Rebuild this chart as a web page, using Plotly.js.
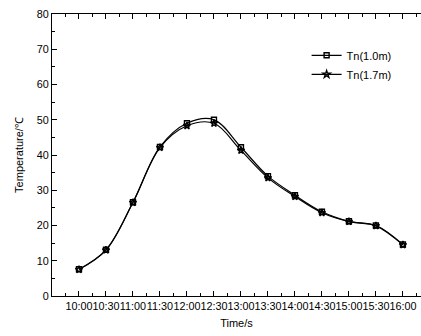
<!DOCTYPE html>
<html><head><meta charset="utf-8">
<script src="https://cdn.plot.ly/plotly-3.0.1.min.js"></script>
<style>html,body{margin:0;padding:0;background:#fff;}#chart{width:421px;height:336px;}</style>
</head><body><div id="chart"></div>
<script>
const categories = ["10:00","10:30","11:00","11:30","12:00","12:30","13:00","13:30","14:00","14:30","15:00","15:30","16:00"];
const tn10 = [7.6, 13.1, 26.6, 42.3, 49.0, 50.0, 42.2, 34.0, 28.6, 23.9, 21.2, 20.0, 14.6];
const tn17 = [7.5, 13.0, 26.5, 42.1, 48.3, 49.0, 41.3, 33.5, 28.2, 23.6, 21.1, 19.9, 14.5];
const idx = categories.map((c, i) => i);

const common = {mode: 'lines+markers', line: {shape: 'spline', color: '#000', width: 1.2}};
const traces = [
  Object.assign({}, common, {x: idx, y: tn10, name: 'Tn(1.0m)',
    marker: {symbol: 'square-open', size: 5, color: '#000', line: {width: 1.4, color: '#000'}}}),
  Object.assign({}, common, {x: idx, y: tn17, name: 'Tn(1.7m)',
    marker: {symbol: 'star-open', size: 5.5, color: '#000', line: {width: 1.4, color: '#000'}}})
];

const layout = {
  width: 421, height: 336,
  margin: {l: 52, r: 0, t: 14, b: 40},
  paper_bgcolor: '#fff', plot_bgcolor: '#fff',
  font: {family: '"Liberation Sans", Arial, sans-serif', color: '#000', size: 10},
  showlegend: true,
  legend: {x: 0.69, y: 0.905, xanchor: 'left', yanchor: 'top', bgcolor: 'rgba(0,0,0,0)',
    font: {size: 11}, itemwidth: 30, tracegroupgap: 0},
  xaxis: {
    range: [-1, 12.67], tickmode: 'array', tickvals: idx, ticktext: categories, tickangle: 0,
    showgrid: false, zeroline: false, showline: true, linecolor: '#000', linewidth: 1,
    mirror: 'allticks', ticks: 'inside', ticklen: 5, tickcolor: '#000', tickwidth: 1,
    minor: {ticks: 'inside', ticklen: 3, tickvals: idx.map(i => i - 0.5).concat([idx.length - 0.5]), tickcolor: '#000', tickwidth: 1, showgrid: false},
    tickfont: {size: 10.8},
    title: {text: 'Time/s', font: {size: 11}, standoff: 8}
  },
  yaxis: {
    range: [0, 80], tickmode: 'linear', tick0: 0, dtick: 10, showgrid: false, zeroline: false, showline: true,
    linecolor: '#000', linewidth: 1, ticks: 'inside', ticklen: 5, tickcolor: '#000', tickwidth: 1,
    minor: {ticks: 'inside', ticklen: 3, dtick: 5, tickcolor: '#000', tickwidth: 1, showgrid: false},
    tickfont: {size: 10.8},
    title: {text: 'Temperature/℃', font: {size: 11}, standoff: 10}
  }
};
Plotly.newPlot('chart', traces, layout, {displayModeBar: false});
</script></body></html>
